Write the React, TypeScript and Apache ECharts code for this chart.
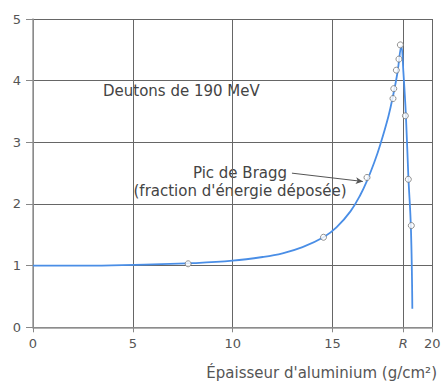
import React, { useEffect, useRef } from "react";
import * as echarts from "echarts";

// Curve (fraction d'énergie déposée) vs épaisseur d'aluminium
const curveX = [0, 3, 6, 8, 10, 11.5, 12.5, 13.5, 14.55, 15.2, 15.9, 16.4, 16.76, 17.1, 17.4, 17.8, 18.05, 18.25, 18.45, 18.55, 18.68, 18.8, 18.93, 19.0];
const curveY = [1.0, 1.0, 1.02, 1.04, 1.08, 1.14, 1.2, 1.3, 1.46, 1.62, 1.88, 2.15, 2.4, 2.68, 2.97, 3.42, 3.78, 4.12, 4.56, 4.15, 3.42, 2.45, 1.6, 0.3];

// Measured points (open circles)
const pointX = [7.77, 14.55, 16.73, 18.03, 18.07, 18.2, 18.33, 18.4, 18.65, 18.8, 18.95];
const pointY = [1.03, 1.46, 2.43, 3.71, 3.87, 4.17, 4.35, 4.58, 3.43, 2.4, 1.65];

const R_VALUE = 18.55;
const xTickValues = [0, 5, 10, 15, R_VALUE, 20];
const yTicks = [0, 1, 2, 3, 4, 5];

// Arrow from label to Bragg peak point
const arrowFrom = [12.97, 2.5];
const arrowTo = [16.52, 2.365];

const FONT = "DejaVu Sans";

export default function App() {
  const ref = useRef<HTMLDivElement>(null);
  useEffect(() => {
    document.body.style.margin = "0";
    const chart = echarts.init(ref.current!, null, { renderer: "svg" });
    chart.setOption({
      animation: false,
      backgroundColor: "#ffffff",
      grid: { left: 33, right: 13.7, top: 19, bottom: 57.7, containLabel: false },
      xAxis: {
        type: "value",
        min: 0,
        max: 20,
        interval: 5,
        axisLine: { show: true, lineStyle: { color: "#999", width: 1.5 } },
        axisTick: {
          show: true,
          length: 5,
          customValues: xTickValues,
          lineStyle: { color: "#888" },
        },
        axisLabel: {
          customValues: xTickValues,
          margin: 10,
          fontFamily: FONT,
          fontSize: 13,
          color: "#555",
          formatter: (v: number) => (v === R_VALUE ? "{r|R}" : String(v)),
          rich: { r: { fontStyle: "italic", fontFamily: FONT, fontSize: 13, color: "#555" } },
        },
        splitLine: { show: true, lineStyle: { color: "#666", width: 1 } },
      },
      yAxis: {
        type: "value",
        min: yTicks[0],
        max: yTicks[yTicks.length - 1],
        interval: 1,
        axisLine: { show: true, lineStyle: { color: "#999", width: 1.5 } },
        axisTick: { show: true, length: 7, lineStyle: { color: "#888" } },
        axisLabel: { margin: 12, fontFamily: FONT, fontSize: 13, color: "#555" },
        splitLine: { show: true, lineStyle: { color: "#666", width: 1 } },
      },
      series: [
        {
          type: "line",
          data: curveX.map((x, i) => [x, curveY[i]]),
          showSymbol: false,
          smooth: 0.4,
          lineStyle: { color: "#4a8ee6", width: 1.8 },
          z: 3,
        },
        {
          type: "scatter",
          data: pointX.map((x, i) => [x, pointY[i]]),
          symbol: "circle",
          symbolSize: 6,
          itemStyle: { color: "#ffffff", borderColor: "#777", borderWidth: 1 },
          z: 4,
          markLine: {
            silent: true,
            symbol: ["none", "arrow"],
            symbolSize: [5, 7],
            label: { show: false },
            lineStyle: { color: "#555", width: 1, type: "solid" },
            data: [[{ coord: arrowFrom }, { coord: arrowTo }]],
          },
        },
      ],
      graphic: [
        {
          type: "text",
          x: 103,
          y: 90.5,
          style: {
            text: "Deutons de 190 MeV",
            font: `15px "${FONT}"`,
            fill: "#444",
            textAlign: "left",
            textVerticalAlign: "middle",
          },
        },
        {
          type: "text",
          x: 240,
          y: 172.5,
          style: {
            text: "Pic de Bragg",
            font: `15px "${FONT}"`,
            fill: "#444",
            textAlign: "center",
            textVerticalAlign: "middle",
          },
        },
        {
          type: "text",
          x: 240,
          y: 190.5,
          style: {
            text: "(fraction d'énergie déposée)",
            font: `15px "${FONT}"`,
            fill: "#444",
            textAlign: "center",
            textVerticalAlign: "middle",
          },
        },
        {
          type: "text",
          x: 437,
          y: 373,
          style: {
            text: "Épaisseur d'aluminium (g/cm²)",
            font: `15px "${FONT}"`,
            fill: "#555",
            textAlign: "right",
            textVerticalAlign: "middle",
          },
        },
      ],
    });
    return () => chart.dispose();
  }, []);
  return (
    <div
      ref={ref}
      style={{ position: "absolute", left: 0, top: 0, width: 446, height: 385 }}
    />
  );
}
